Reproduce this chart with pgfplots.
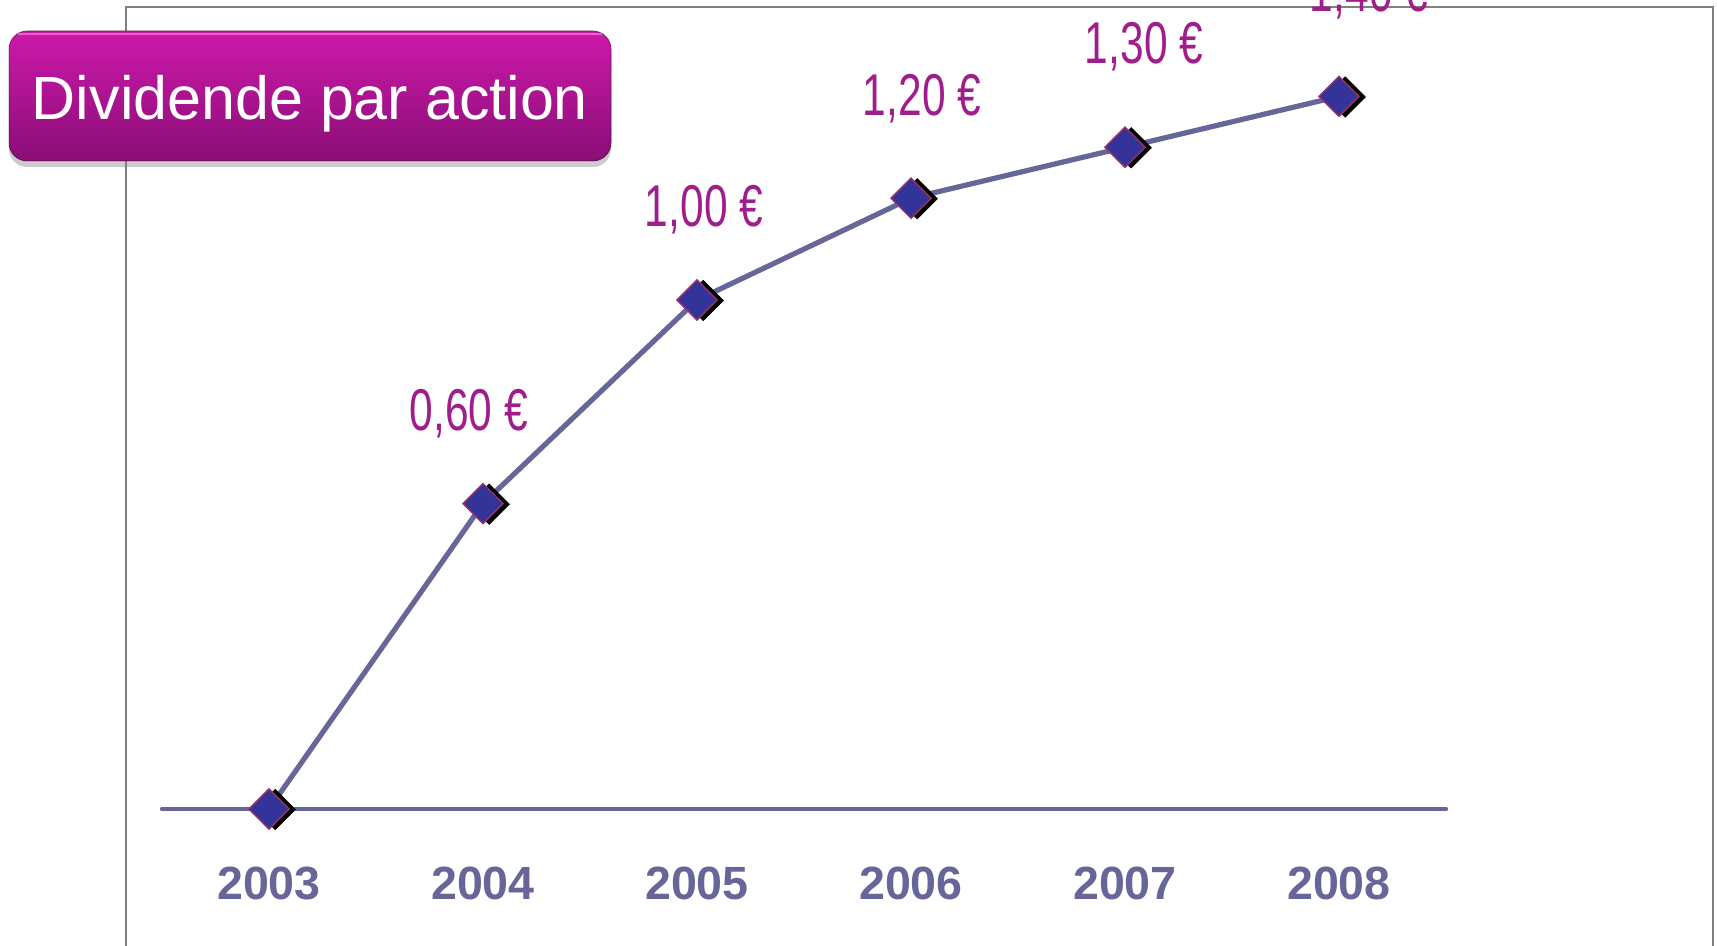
\documentclass[border=0pt]{standalone}
\usepackage{pgfplots}
\pgfplotsset{compat=1.18}
\usepackage{pgfplotstable}
\usetikzlibrary{shadows}
\usepackage{fontspec}
\setmainfont{Liberation Sans}
\newfontfamily\lblfont[FakeStretch=0.72]{Liberation Sans}
\definecolor{lineblue}{RGB}{102,102,153}
\definecolor{markfill}{RGB}{51,51,153}
\definecolor{markedge}{RGB}{153,51,102}
\definecolor{lblmag}{RGB}{160,30,140}
\definecolor{boxtop}{RGB}{205,25,170}
\definecolor{boxbot}{RGB}{138,14,118}
\definecolor{framegray}{RGB}{128,128,128}

\pgfplotstableread{
year value
2003 0.00
2004 0.60
2005 1.00
2006 1.20
2007 1.30
2008 1.40
}\divtable

\pgfplotstableread[col sep=semicolon]{
year;value;label;dx;dy
2004;0.60;0,60 €;-7;45
2005;1.00;1,00 €;3.5;45
2006;1.20;1,20 €;5.5;50
2007;1.30;1,30 €;9.5;50.5
2008;1.40;1,40 €;15;51
}\labeltable

\begin{document}
\begin{tikzpicture}
\useasboundingbox (0,0) rectangle (858.5pt,473pt);
% frame
\draw[framegray, line width=0.7pt] (63pt,-2pt) -- (63pt,469.5pt) -- (856.5pt,469.5pt) -- (856.5pt,-2pt);
\begin{axis}[
  at={(81pt,17.6pt)}, anchor=south west,
  scale only axis, width=642pt, height=432.65pt,
  xmin=2002.5, xmax=2008.5, ymin=-0.2, ymax=1.5,
  axis line style={draw=none},
  major tick length=0pt,
  xtick={2003,2004,2005,2006,2007,2008},
  xticklabels={2003,2004,2005,2006,2007,2008},
  xticklabel style={anchor=center, yshift=13.9pt, text=lineblue,
    font=\bfseries\fontsize{23.3pt}{24pt}\selectfont},
  ytick=\empty,
  clip=false,
]
\draw[lineblue, line width=2.2pt, line cap=round] (axis cs:2002.5,0) -- (axis cs:2008.5,0);
\addplot[lineblue, line width=2.6pt, mark=none] table[x=year,y=value] {\divtable};
\addplot[only marks, mark=square*, mark size=7.1pt,
  mark options={rotate=45, fill=black, draw=black, xshift=2pt, yshift=-2.4pt}]
  table[x=year,y=value] {\divtable};
\addplot[only marks, mark=square*, mark size=7.1pt,
  mark options={rotate=45, fill=markfill, draw=markedge, line width=0.7pt}]
  table[x=year,y=value] {\divtable};
\addplot[draw=none, mark=none, nodes near coords, point meta=explicit symbolic,
  visualization depends on={\thisrow{dx} \as \ldx},
  visualization depends on={\thisrow{dy} \as \ldy},
  nodes near coords style={anchor=center, xshift=\ldx pt, yshift=\ldy pt,
    text=lblmag, font=\lblfont\fontsize{29.5pt}{30pt}\selectfont}]
  table[x=year, y=value, meta=label] {\labeltable};
\end{axis}
% title box
\fill[rounded corners=9pt, top color=boxtop, bottom color=boxbot,
  drop shadow={shadow xshift=0pt, shadow yshift=-3pt, opacity=0.4}]
  (4.5pt,392.5pt) rectangle (305.5pt,457.5pt);
\draw[rounded corners=9pt, black, opacity=0.15, line width=0.8pt]
  (4.5pt,392.5pt) rectangle (305.5pt,457.5pt);
\draw[white, opacity=0.35, line width=0.6pt] (9pt,456pt) -- (301pt,456pt);
\node[text=white, font=\fontsize{30.5pt}{32pt}\selectfont] at (155pt,421pt) {Dividende par action};
\end{tikzpicture}
\end{document}
